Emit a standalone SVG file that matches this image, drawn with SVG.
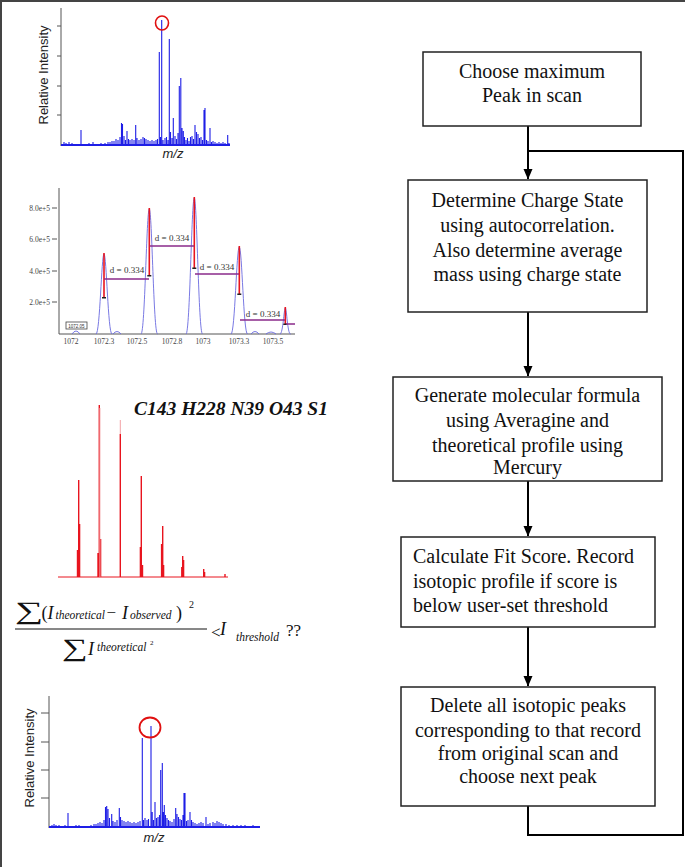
<svg xmlns="http://www.w3.org/2000/svg" width="685" height="867" viewBox="0 0 685 867">
<style>
.box{fill:#fff;stroke:#222;stroke-width:1.5}
.ft{font-family:"Liberation Serif","Times New Roman",serif;font-size:20px;fill:#111}
.c{text-anchor:middle}
.conn{fill:none;stroke:#000;stroke-width:2}
.ax{stroke:#555;stroke-width:1;fill:none}
.spec{stroke:#1e1ee6;stroke-width:1.1;fill:none}
.base{stroke:#1e1ee6;stroke-width:2.2;fill:none}
.lab{font-family:"Liberation Sans",Arial,sans-serif;font-size:13px;fill:#222}
.small{font-family:"Liberation Serif","Times New Roman",serif;font-size:7.5px;fill:#444}
.dl{font-family:"Liberation Serif","Times New Roman",serif;font-size:9px;fill:#333}
.pur{stroke:#8a2b8a;stroke-width:1.3;fill:none}
.gau{stroke:#6a6ae0;stroke-width:0.9;fill:none}
.red{stroke:#e8141e;fill:none}
.eq{font-family:"Liberation Serif","Times New Roman",serif;fill:#111}
.it{font-style:italic}
</style>
<defs>
<marker id="ah" markerWidth="11" markerHeight="10" refX="10" refY="5" orient="auto" markerUnits="userSpaceOnUse">
<path d="M0,0.5 L10.5,5 L0,9.5 Z" fill="#000"/>
</marker>
</defs>
<rect width="685" height="867" fill="#fff"/>
<line x1="0" y1="1" x2="685" y2="1" stroke="#444" stroke-width="2"/>
<line x1="1" y1="0" x2="1" y2="867" stroke="#444" stroke-width="2"/>

<g id="chart-scan">
<line class="ax" x1="61" y1="8" x2="61" y2="146"/>
<path class="ax" d="M57,26H61M57,56H61M57,86H61M57,115H61"/>
<path class="spec" d="M64,145V142M66,145V143M69,145V142M72,145V143M76,145V144M81,145V130M85,145V144M89,145V143M93,145V142M97,145V144M101,145V143M105,145V143M108,145V142M110,145V142M112,145V141M114,145V141M116,145V139M118,145V140M120,145V137M121.5,145V123M122.5,145V124M124,145V136M125.5,145V140M127,145V131M128.5,145V139M130,145V140M132,145V139M134,145V140M135.7,145V125M137,145V138M139,145V140M141,145V139M143,145V137M144.5,145V138M146,145V139M148,145V140M150,145V141M152,145V140M154,145V141M156,145V140M157.5,145V139M159.3,145V52M160.5,145V137M161.7,145V20M163,145V140M165,145V138M166.5,145V137M168,145V140M169.3,145V39M170.5,145V132M172,145V138M173.3,145V118M175,145V136M176.5,145V139M178,145V133M179.3,145V86M180.8,145V78M182,145V128M183.3,145V131M184.5,145V137M186,145V140M187.5,145V138M189,145V141M190.5,145V137M192,145V136M193.5,145V139M195,145V125M196.5,145V132M198,145V134M199.5,145V138M201,145V137M202.5,145V140M204,145V110M205,145V108M206.5,145V140M208,145V141M210,145V128M211.5,145V142M213,145V141M215,145V142M217,145V143M219,145V142M221,145V143M223,145V142M225,145V143M227.7,145V135M229,145V143"/>
<line class="base" x1="61" y1="145" x2="230" y2="145"/>
<ellipse cx="162" cy="23" rx="6.5" ry="7" fill="none" stroke="#e01010" stroke-width="1.6"/>
<text class="lab" transform="translate(48,75) rotate(-90)" text-anchor="middle">Relative Intensity</text>
<text class="lab it" x="173" y="158" text-anchor="middle">m/z</text>
</g>

<g id="chart-charge">
<path class="ax" d="M59,188V334H295"/>
<path class="ax" d="M52,208H57M52,239H57M52,271H57M52,302H57"/>
<text class="small" x="50" y="210.5" text-anchor="end">8.0e+5</text>
<text class="small" x="50" y="241.5" text-anchor="end">6.0e+5</text>
<text class="small" x="50" y="273.5" text-anchor="end">4.0e+5</text>
<text class="small" x="50" y="304.5" text-anchor="end">2.0e+5</text>
<g class="small" text-anchor="middle">
<text x="71" y="344">1072</text>
<text x="104" y="344">1072.3</text>
<text x="137" y="344">1072.5</text>
<text x="172" y="344">1072.8</text>
<text x="203" y="344">1073</text>
<text x="239" y="344">1073.3</text>
<text x="273" y="344">1073.5</text>
</g>
<rect x="66" y="322" width="21" height="7" fill="#fff" stroke="#444" stroke-width="0.8"/>
<text x="76.5" y="327.8" text-anchor="middle" font-family="Liberation Sans, Arial, sans-serif" font-size="4.5" fill="#333">1072.05</text>
<path class="gau" d="M96,334C100,334 101.5,254 104,254C106.5,254 108,334 112,334M141,334C145,334 146.5,209 149.3,209C152,209 153.5,334 157.5,334M186,334C190,334 191.5,198 194.3,198C197,198 198.5,334 202.5,334M231,334C235,334 236.5,247 239.3,247C242,247 243.5,334 247.5,334M280,334C283,334 284,308 285.3,308C286.7,308 287.5,334 290.5,334"/>
<path class="gau" d="M72,334Q76,328 80,334M113,334Q117,329 121,334M251,334Q255,329 259,334M266,334Q271,330 276,334"/>
<path class="red" stroke-width="1.6" d="M104,253V298M149.3,208V276M194.3,197V268M239.3,246V294M285.3,307V324"/>
<path stroke="#222" stroke-width="1.6" d="M102,297.7H106M147.3,275.7H151.3M192.3,268.3H196.3M237.3,294.3H241.3M283.3,324.3H287.3"/>
<path class="pur" d="M104,279H149M149.7,246H194M195,274H239M240,320H285M286,324H295"/>
<g class="dl" text-anchor="middle">
<text x="127" y="273">d = 0.334</text>
<text x="172" y="241">d = 0.334</text>
<text x="217" y="270">d = 0.334</text>
<text x="263" y="317">d = 0.334</text>
</g>
</g>

<g id="chart-theoretical">
<text x="134" y="415" font-family="Liberation Serif, Times New Roman, serif" font-size="19.5" font-weight="bold" font-style="italic" fill="#111">C143 H228 N39 O43 S1</text>
<line x1="58" y1="577" x2="228" y2="577" stroke="#e8141e" stroke-width="1"/>
<path class="red" stroke-width="1.4" d="M78.7,577V480M77.5,577V550M79.6,577V524M99.3,577V405M98,577V553M100.6,577V539M120.3,577V434M141.3,577V476M140.4,577V547M142.5,577V565M162.7,577V526M161.6,577V544M163.6,577V565M182.7,577V556M181.8,577V567M183.6,577V560M203.7,577V569M204.6,577V572M225,577V574"/>
<path stroke="#f3a0a4" stroke-width="1" d="M99.9,577V408M120.3,434V420"/>
</g>

<g id="equation" class="eq">
<text transform="translate(15,619) scale(1.65,1.05)" font-size="24">∑</text>
<text x="41.5" y="619" font-size="18">(</text>
<text x="47.5" y="619" font-size="18" class="it">I</text>
<text x="55.5" y="619" font-size="11.5" class="it">theoretical</text>
<text x="106.5" y="618" font-size="17">−</text>
<text x="122" y="619" font-size="18" class="it">I</text>
<text x="130" y="619" font-size="11.5" class="it">observed</text>
<text x="176" y="619" font-size="18">)</text>
<text x="189" y="608" font-size="10">2</text>
<line x1="15" y1="629" x2="207" y2="629" stroke="#111" stroke-width="1"/>
<text transform="translate(62,656) scale(1.5,1.05)" font-size="24">∑</text>
<text x="88" y="655" font-size="18" class="it">I</text>
<text x="97" y="651" font-size="11.5" class="it">theoretical</text>
<text x="150" y="645" font-size="7">2</text>
<text x="211" y="638" font-size="17">&lt;</text>
<text x="220" y="635" font-size="18" class="it">I</text>
<text x="236" y="641" font-size="11.5" class="it">threshold</text>
<text x="286" y="636" font-size="17">??</text>
</g>

<g id="chart-next">
<line class="ax" x1="49" y1="696" x2="49" y2="828"/>
<path class="ax" d="M41,713H49M41,742H49M41,770H49M41,798H49"/>
<path class="spec" d="M52,827V825M54,827V824M56,827V825M59,827V825M62,827V826M65,827V825M68,827V813M72,827V826M76,827V825M79,827V825M83,827V826M87,827V826M91,827V825M94,827V824M96,827V824M98,827V823M100,827V822M102,827V823M104,827V820M105.5,827V807M106.7,827V806M108,827V809M109.5,827V818M111.7,827V814M113,827V821M115,827V822M117,827V820M119.3,827V808M120.5,827V817M122,827V820M124,827V821M126,827V822M128,827V821M130,827V822M132,827V823M134,827V822M136,827V823M138,827V822M140,827V821M142.3,827V738M143.5,827V820M145,827V818M147,827V820M148.5,827V819M151,827V726M152.2,827V812M153.5,827V820M155,827V802M156.5,827V818M158,827V817M159.5,827V815M160.7,827V770M162.3,827V763M163.3,827V812M164.3,827V805M165.5,827V815M167,827V818M168.5,827V820M170,827V821M172,827V822M174,827V819M175.7,827V808M177,827V814M178.5,827V817M180,827V819M181.5,827V820M183,827V815M184,827V793M185,827V793M186.5,827V821M188,827V820M190,827V812M191.5,827V820M193,827V822M195,827V823M197,827V824M199,827V823M201,827V822M203,827V823M206,827V817M208,827V824M210,827V823M213,827V822M215,827V823M217,827V821M219,827V822M221,827V823M223,827V824M226,827V824M229,827V825M233,827V825M237,827V825M241,827V825M245,827V825M249,827V826M253,827V825M257,827V826"/>
<line class="base" x1="49" y1="827" x2="260" y2="827"/>
<ellipse cx="150" cy="727.5" rx="10.5" ry="10" fill="none" stroke="#e01010" stroke-width="1.8"/>
<text class="lab" transform="translate(34,758) rotate(-90)" text-anchor="middle">Relative Intensity</text>
<text class="lab it" x="154" y="842" text-anchor="middle">m/z</text>
</g>

<g id="connectors">
<path class="conn" d="M528,126V179" marker-end="url(#ah)"/>
<path class="conn" d="M528,312V376" marker-end="url(#ah)"/>
<path class="conn" d="M528,481V536" marker-end="url(#ah)"/>
<path class="conn" d="M528,627V686" marker-end="url(#ah)"/>
<path class="conn" d="M528,806V835H683V151H528"/>
</g>

<g id="node-choose">
<rect class="box" x="423" y="52" width="218" height="74"/>
<text class="ft c" x="532" y="78">Choose maximum</text>
<text class="ft c" x="532" y="102">Peak in scan</text>
</g>
<g id="node-charge">
<rect class="box" x="408" y="180" width="239" height="132"/>
<text class="ft c" x="527.5" y="207">Determine Charge State</text>
<text class="ft c" x="527.5" y="232">using autocorrelation.</text>
<text class="ft c" x="527.5" y="257">Also determine average</text>
<text class="ft c" x="527.5" y="281">mass using charge state</text>
</g>
<g id="node-formula">
<rect class="box" x="393" y="377" width="269" height="104"/>
<text class="ft c" x="527.5" y="402">Generate molecular formula</text>
<text class="ft c" x="527.5" y="427">using Averagine and</text>
<text class="ft c" x="527.5" y="452">theoretical profile using</text>
<text class="ft c" x="527.5" y="474">Mercury</text>
</g>
<g id="node-fit">
<rect class="box" x="401" y="537" width="254" height="90"/>
<text class="ft" x="413" y="563">Calculate Fit Score. Record</text>
<text class="ft" x="413" y="588">isotopic profile if score is</text>
<text class="ft" x="413" y="612">below user-set threshold</text>
</g>
<g id="node-delete">
<rect class="box" x="401" y="687" width="254" height="119"/>
<text class="ft c" x="528" y="712">Delete all isotopic peaks</text>
<text class="ft c" x="528" y="737">corresponding to that record</text>
<text class="ft c" x="528" y="760">from original scan and</text>
<text class="ft c" x="528" y="783">choose next peak</text>
</g>
</svg>
